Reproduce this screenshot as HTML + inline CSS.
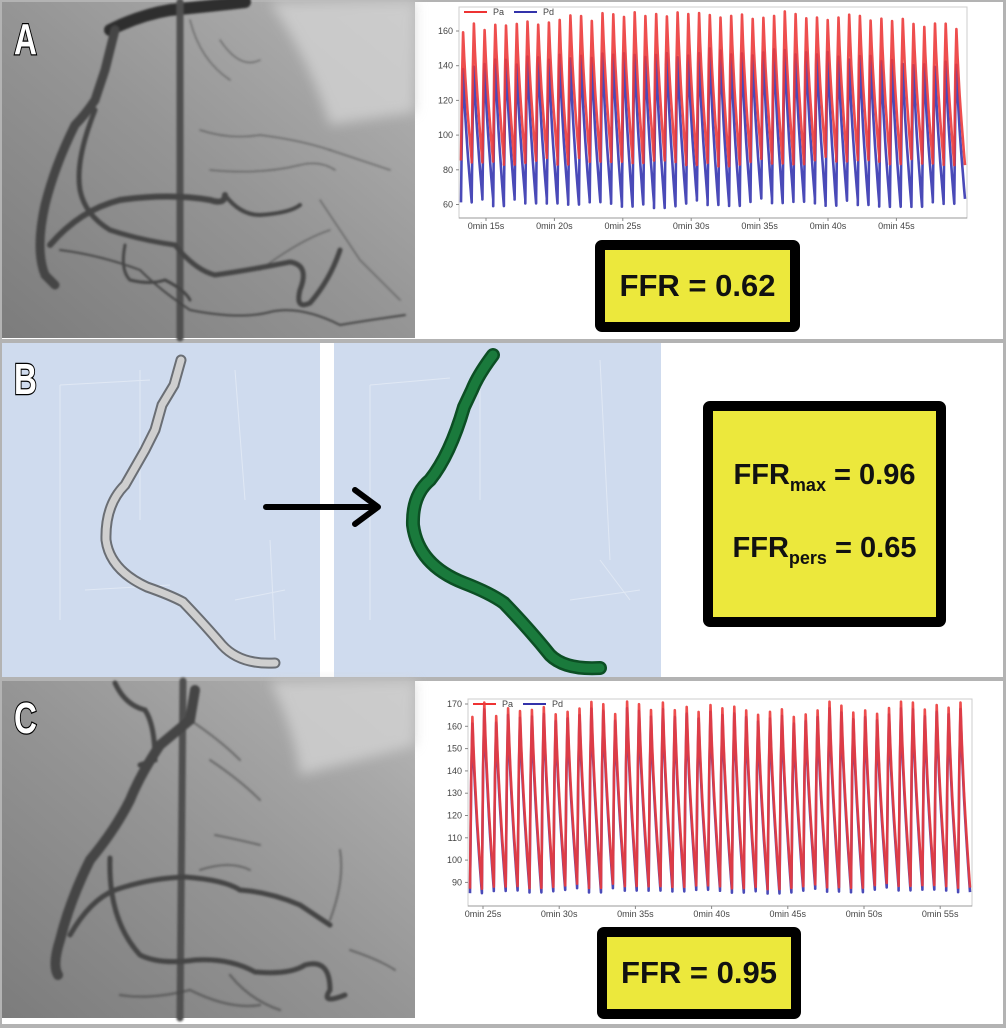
<!DOCTYPE html>
<html><head><meta charset="utf-8">
<style>
html,body{margin:0;padding:0;background:#fff;}
body{width:1006px;height:1028px;overflow:hidden;position:relative;font-family:"Liberation Sans",sans-serif;}
svg{position:absolute;left:0;top:0;}
.box{position:absolute;background:#ece83c;border:10px solid #000;border-radius:7px;box-sizing:border-box;font-family:"Liberation Sans",sans-serif;font-weight:bold;color:#111;display:flex;align-items:center;justify-content:center;}
</style></head><body>
<svg id="s" width="1006" height="1028" viewBox="0 0 1006 1028">
<defs>
<linearGradient id="ga" x1="0" y1="1" x2="1" y2="0">
<stop offset="0" stop-color="#7c7c7c"/><stop offset="0.5" stop-color="#959595"/><stop offset="0.8" stop-color="#a8a8a8"/><stop offset="1" stop-color="#b8b8b8"/></linearGradient>
<filter id="bl"><feGaussianBlur stdDeviation="1"/></filter>
<filter id="bl3"><feGaussianBlur stdDeviation="6"/></filter>
</defs>
<rect x="0" y="0" width="1006" height="1028" fill="#b3b3b3"/>
<rect x="2" y="2" width="1001" height="337" fill="#fff"/>
<rect x="2" y="343" width="1001" height="334" fill="#fff"/>
<rect x="2" y="681" width="1001" height="343" fill="#fff"/>
<!-- Panel A angiogram -->
<rect x="2" y="2" width="413" height="336" fill="url(#ga)"/>
<path d="M330,125 Q375,118 415,112 L415,2 L270,2 Q310,60 330,125Z" fill="#d2d2d2" opacity="0.8" filter="url(#bl3)"/>
<g fill="none" stroke="#454545" stroke-linecap="round" filter="url(#bl)">
<path d="M110,30 Q140,15 170,10 Q220,5 245,2" stroke="#2e2e2e" stroke-width="12"/>
<path d="M180,2 L180,338" stroke="#505050" stroke-width="7"/>
<path d="M115,30 L105,70 L95,100 Q85,115 75,125 Q55,165 45,205 Q35,250 45,275 L55,285" stroke-width="9"/>
<path d="M50,245 Q80,210 120,200 Q170,193 210,200 Q225,205 225,195" stroke-width="6"/>
<path d="M225,195 Q240,215 260,215 Q290,213 300,205" stroke-width="4"/>
<path d="M95,110 Q75,160 80,190 Q85,215 110,230 Q140,240 175,245 Q195,270 215,275 Q250,270 290,262 Q310,265 300,290 Q295,310 310,303 Q330,280 340,250" stroke-width="5"/>
<path d="M125,245 Q120,270 130,280 Q150,285 165,280 Q185,290 190,300" stroke-width="3"/>
<path d="M60,250 Q100,255 140,270 Q160,290 190,310 Q240,320 270,312 Q300,305 340,325 Q370,320 405,315" stroke-width="2"/>
<path d="M200,130 Q230,140 260,135 Q300,140 330,150 M210,170 Q260,175 300,165 Q320,160 335,170 M190,20 Q200,60 230,80 M220,40 Q240,70 260,60" stroke-width="1.5" opacity="0.6"/>
<path d="M330,150 Q360,160 390,170 M320,200 Q340,230 360,260 Q380,280 400,300 M260,270 Q300,240 330,230" stroke-width="1.5" opacity="0.6"/>
</g>
<!-- Panel B -->
<rect x="2" y="343" width="318" height="334" fill="#cfdbee"/>
<rect x="334" y="343" width="327" height="334" fill="#cfdbee"/>
<g stroke="#e0e8f4" stroke-width="1" fill="none">
<path d="M60,385 L60,620 M140,370 L140,520 M60,385 L150,380 M235,370 L245,500 M85,590 L170,585 M270,540 L275,640 M235,600 L285,590"/>
<path d="M370,385 L370,620 M480,370 L480,500 M370,385 L450,378 M600,360 L610,560 M600,560 L630,600 M570,600 L640,590"/>
</g>
<path d="M181,360 L174,385 L162,405 L155,430 L145,450 L125,485 Q105,505 106,540 Q110,570 147,587 Q170,595 183,602 Q205,625 222,645 Q240,665 275,663" fill="none" stroke="#6a6e74" stroke-width="11" stroke-linecap="round"/>
<path d="M181,360 L174,385 L162,405 L155,430 L145,450 L125,485 Q105,505 106,540 Q110,570 147,587 Q170,595 183,602 Q205,625 222,645 Q240,665 275,663" fill="none" stroke="#cfcfcf" stroke-width="7" stroke-linecap="round"/>
<path d="M493,355 Q478,375 472,390 L464,407 Q450,455 430,480 Q412,495 413,525 Q418,565 464,583 Q490,593 504,603 Q530,630 550,655 Q565,670 600,668" fill="none" stroke="#0c4f24" stroke-width="14" stroke-linecap="round"/>
<path d="M493,355 Q478,375 472,390 L464,407 Q450,455 430,480 Q412,495 413,525 Q418,565 464,583 Q490,593 504,603 Q530,630 550,655 Q565,670 600,668" fill="none" stroke="#1a7a3c" stroke-width="9" stroke-linecap="round"/>
<path d="M266,507 L374,507 M355,490 L378,507 L355,524" fill="none" stroke="#000" stroke-width="6" stroke-linecap="round" stroke-linejoin="round"/>
<!-- Panel C angiogram -->
<rect x="2" y="681" width="413" height="337" fill="url(#ga)"/>
<path d="M300,775 Q360,760 415,745 L415,681 L270,681 Q295,730 300,775Z" fill="#d2d2d2" opacity="0.8" filter="url(#bl3)"/>
<g fill="none" stroke="#454545" stroke-linecap="round" filter="url(#bl)">
<path d="M183,681 L180,1018" stroke="#505050" stroke-width="7"/>
<path d="M195,690 L190,720 L160,745 Q140,775 130,800 Q115,830 90,860 Q70,900 60,940 Q52,965 58,975" stroke-width="10"/>
<path d="M115,683 Q125,705 145,710 Q155,725 155,760 L140,765" stroke-width="5"/>
<path d="M70,935 Q90,900 115,890 Q150,878 185,877 Q225,880 240,890 Q270,892 300,905 L330,925" stroke-width="5"/>
<path d="M110,858 Q108,920 140,955 Q160,965 195,960 Q230,958 255,972 Q290,975 305,965 Q330,958 330,990 Q320,1005 345,995" stroke-width="5"/>
<path d="M190,720 Q220,740 240,760 M210,760 Q240,780 260,800 M215,835 Q240,840 260,845 M200,870 Q230,860 250,870 M340,850 Q345,880 330,920 M350,950 Q380,960 395,970" stroke-width="2" opacity="0.6"/>
<path d="M120,995 Q150,1000 190,990 Q230,1010 260,1005 M230,975 Q250,1000 280,1010" stroke-width="2.5" opacity="0.6"/>
</g>
<g font-family="Liberation Sans,sans-serif" font-weight="bold" font-size="44" fill="#fff" stroke="#000" stroke-width="2.5" paint-order="stroke">
<text transform="translate(14,54) scale(0.72,1)">A</text>
<text transform="translate(14,394) scale(0.72,1)">B</text>
<text transform="translate(14,733) scale(0.72,1)">C</text>
</g>
<g id="ca" font-family="Liberation Sans,sans-serif" font-size="9" fill="#444"></g>
<g id="cc" font-family="Liberation Sans,sans-serif" font-size="9" fill="#444"></g>
</svg>
<div class="box" style="left:595px;top:240px;width:205px;height:92px;font-size:31px;">FFR = 0.62</div>
<div class="box" style="left:703px;top:401px;width:243px;height:226px;font-size:29px;flex-direction:column;">
<div style="margin-bottom:36px;">FFR<sub style="font-size:18px;">max</sub> = 0.96</div>
<div>FFR<sub style="font-size:18px;">pers</sub> = 0.65</div></div>
<div class="box" style="left:597px;top:927px;width:204px;height:92px;font-size:31px;">FFR = 0.95</div>
<script>
var NS="http://www.w3.org/2000/svg";
function el(p,t,a,txt){var e=document.createElementNS(NS,t);for(var k in a)e.setAttribute(k,a[k]);if(txt)e.textContent=txt;p.appendChild(e);return e;}
function rnd(i){var x=Math.sin(i*12.9898)*43758.5453;return x-Math.floor(x);}
function chart(g,L,R,T,B,v2y,ticks,xl0,xls,xlabels,n,pa,pd){
 el(g,"rect",{x:L,y:T,width:R-L,height:B-T,fill:"#fff",stroke:"#ccc","stroke-width":1});
 ticks.forEach(function(v){var y=v2y(v);el(g,"text",{x:L-6,y:y+3,"text-anchor":"end"},String(v));el(g,"line",{x1:L-3,y1:y,x2:L,y2:y,stroke:"#888"});});
 el(g,"line",{x1:L,y1:B,x2:R,y2:B,stroke:"#999"});
 xlabels.forEach(function(s,i){var x=xl0+i*xls;el(g,"text",{x:x,y:B+11,"text-anchor":"middle"},s);el(g,"line",{x1:x,y1:B,x2:x,y2:B+3,stroke:"#888"});});
 el(g,"line",{x1:L+5,y1:T+5,x2:L+28,y2:T+5,stroke:"#e33","stroke-width":2});
 el(g,"text",{x:L+34,y:T+8},"Pa");
 el(g,"line",{x1:L+55,y1:T+5,x2:L+78,y2:T+5,stroke:"#33a","stroke-width":2});
 el(g,"text",{x:L+84,y:T+8},"Pd");
 var per=(R-L-4)/n;
 function wave(f,col){var d="";for(var i=0;i<n;i++){var mx=f.max(i),mn=f.min(i);
  for(var s=0;s<=10;s++){var p=s/10,v;if(p<0.22)v=mn+(mx-mn)*Math.sin(p/0.22*Math.PI/2);else v=mx-(mx-mn)*Math.pow((p-0.22)/0.78,0.7);
  var x=L+2+(i+p)*per;d+=(d?"L":"M")+x.toFixed(1)+","+v2y(v).toFixed(1);}}
  el(g,"path",{d:d,fill:"none",stroke:col,"stroke-width":2.6,"stroke-linejoin":"round",opacity:0.9});}
 wave(pd,"#3636b0");wave(pa,"#ec3b3b");
}
var ga=document.getElementById("ca");
chart(ga,459,967,7,218,function(v){return 31+(160-v)*1.735;},[160,140,120,100,80,60],486,68.4,
 ["0min 15s","0min 20s","0min 25s","0min 30s","0min 35s","0min 40s","0min 45s"],47,
 {max:function(i){return 160+8*Math.sin(i/47*Math.PI)+rnd(i)*5;},min:function(i){return 82+rnd(i+3)*6;}},
 {max:function(i){return 138+8*Math.sin(i/47*Math.PI)+rnd(i+7)*5;},min:function(i){return 58+rnd(i+9)*6;}});
var gc=document.getElementById("cc");
chart(gc,468,972,699,906,function(v){return 704+(170-v)*2.23;},[170,160,150,140,130,120,110,100,90],483,76.2,
 ["0min 25s","0min 30s","0min 35s","0min 40s","0min 45s","0min 50s","0min 55s"],42,
 {max:function(i){return 165+rnd(i)*7;},min:function(i){return 87+rnd(i+2)*3;}},
 {max:function(i){return 162+rnd(i)*7;},min:function(i){return 85+rnd(i+2)*3;}});
</script>
</body></html>
